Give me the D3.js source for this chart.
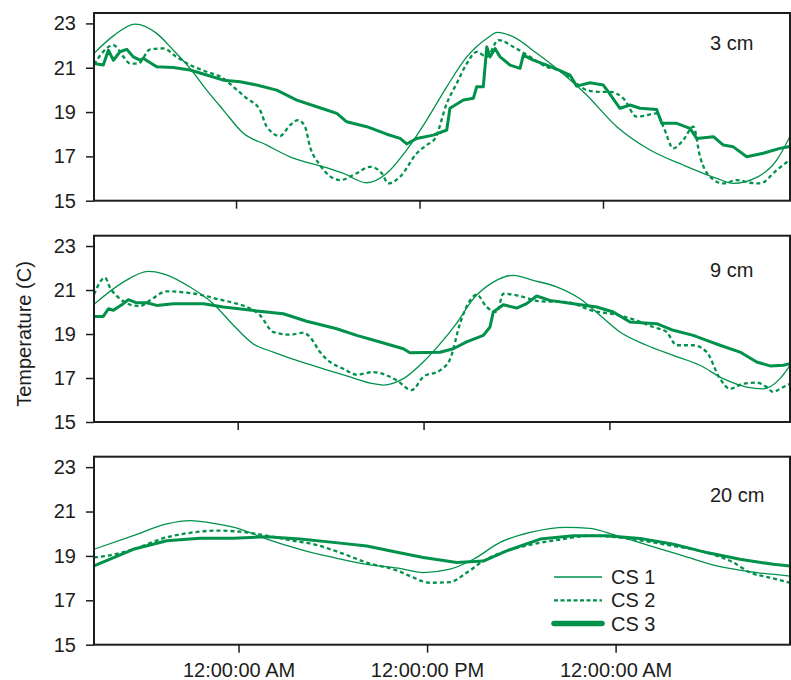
<!DOCTYPE html>
<script src="https://cdn.jsdelivr.net/npm/d3@7"></script>
<html>
    <body style="margin:0;background:#fff">
        <div id="chart-div"></div>
        <script>
            // labels and ticks
            const depthLabels = ["3 cm", "9 cm", "20 cm"];
            const seriesNames = ["CS 1", "CS 2", "CS 3"];
            const yTicks = [15, 17, 19, 21, 23];
            const tickHours = [0, 12, 24]; // hours after the first midnight

            // 3 cm (hours after first midnight, temperature in C)
            const hours3cmCS1 = [-9.29, -8, -6.61, -5.19, -4.1, -3.01, -1.92, -0.83, 0.48, 2.01, 3.53, 5.71, 7.02, 8.55, 9.86, 11.16, 12.47, 13.78, 15.09, 16.4, 17.1, 18.14, 19.67, 21.08, 22.83, 24.9, 27.08, 29.25, 31.44, 32.52, 34.05, 35.36, 36.23];
            const temp3cmCS1 = [21.65, 22.45, 22.97, 22.55, 21.79, 20.97, 19.99, 19.09, 18.04, 17.51, 16.98, 16.53, 16.23, 15.81, 16.24, 17.29, 18.64, 20.14, 21.49, 22.32, 22.6, 22.39, 21.65, 20.9, 19.84, 18.34, 17.29, 16.61, 16.01, 15.78, 16.05, 16.83, 17.9];
            const hours3cmCS2 = [-9.29, -8.02, -7.37, -6.93, -6.39, -5.62, -4.75, -3.88, -3.01, -1.92, -0.83, -0.18, 0.7, 1.57, 2.01, 2.88, 3.53, 4.07, 4.51, 4.84, 5.49, 6.8, 7.89, 8.76, 9.53, 9.96, 10.73, 11.82, 12.47, 13.02, 13.78, 14.43, 15.09, 15.74, 16.4, 17.15, 18.14, 19.23, 20.32, 21.08, 22.28, 22.94, 23.81, 24.46, 25.33, 26.21, 26.86, 27.51, 27.95, 28.6, 29.25, 29.91, 30.35, 31.0, 31.87, 32.75, 33.62, 34.27, 35.36, 36.23];
            const temp3cmCS2 = [21.15, 22.02, 21.5, 21.19, 21.19, 21.83, 21.87, 21.49, 21.12, 20.82, 20.52, 20.14, 19.62, 19.09, 18.34, 17.92, 18.41, 18.64, 18.34, 17.43, 16.61, 15.93, 16.24, 16.53, 16.24, 15.78, 16.08, 17.14, 17.51, 17.81, 19.39, 20.29, 21.19, 21.72, 21.49, 22.25, 21.94, 21.49, 21.04, 20.9, 20.29, 19.99, 19.91, 19.91, 19.62, 18.79, 18.86, 18.94, 18.34, 17.36, 17.74, 18.34, 16.98, 16.08, 15.78, 15.93, 15.81, 15.78, 16.38, 16.85];
            const hours3cmCS3 = [-9.29, -8.68, -8.35, -8.02, -7.59, -7.15, -6.72, -6.28, -6.06, -5.19, -4.1, -3.01, -1.92, -0.83, 0.26, 1.35, 2.66, 3.97, 5.28, 6.59, 7.24, 8.55, 9.86, 10.73, 11.16, 11.82, 12.9, 13.78, 13.99, 14.87, 15.52, 15.74, 16.17, 16.4, 16.61, 16.94, 17.27, 17.92, 18.57, 18.79, 19.44, 20.32, 21.08, 21.84, 22.28, 23.15, 24.02, 24.35, 25.11, 25.77, 26.42, 27.51, 27.84, 28.82, 29.69, 30.13, 31.22, 31.87, 32.52, 33.4, 34.48, 35.57, 36.23];
            const temp3cmCS3 = [21.19, 21.12, 21.79, 21.34, 21.72, 21.83, 21.49, 21.34, 21.42, 21.04, 21.01, 20.9, 20.67, 20.44, 20.37, 20.22, 19.99, 19.54, 19.24, 18.94, 18.56, 18.34, 18.0, 17.81, 17.56, 17.81, 17.96, 18.19, 19.17, 19.54, 19.62, 20.14, 20.14, 21.94, 21.49, 21.87, 21.49, 21.12, 20.97, 21.57, 21.34, 21.12, 20.9, 20.67, 20.17, 20.32, 20.22, 19.91, 19.17, 19.32, 19.17, 19.12, 18.49, 18.49, 18.26, 17.81, 17.89, 17.51, 17.43, 16.98, 17.14, 17.36, 17.45];

            // 9 cm
            const hours9cmCS1 = [-9.28, -7.39, -5.77, -4.8, -3.08, -1.58, -0.28, 1.01, 2.3, 3.81, 5.53, 7.25, 8.75, 9.4, 10.69, 11.98, 13.06, 14.14, 15.21, 16.5, 17.79, 19.08, 20.59, 22.1, 23.39, 24.68, 26.4, 28.12, 29.84, 31.35, 32.86, 33.93, 35.01, 35.66];
            const temp9cmCS1 = [20.35, 21.36, 21.85, 21.74, 21.14, 20.38, 19.4, 18.55, 18.18, 17.8, 17.42, 17.05, 16.74, 16.68, 16.97, 17.73, 18.55, 19.5, 20.6, 21.36, 21.67, 21.44, 21.14, 20.6, 19.85, 19.09, 18.49, 18.03, 17.58, 16.97, 16.59, 16.51, 16.97, 17.58];
            const hours9cmCS2 = [-9.28, -8.57, -8.24, -7.6, -6.74, -6.31, -5.66, -4.58, -3.29, -2.43, -1.36, -0.28, 0.58, 1.44, 2.3, 3.38, 4.24, 4.67, 5.31, 5.96, 6.82, 7.68, 8.75, 9.62, 10.26, 11.23, 11.98, 13.06, 13.71, 14.35, 15.0, 15.43, 16.07, 16.72, 17.15, 18.01, 19.52, 21.24, 22.96, 24.25, 25.54, 26.83, 27.7, 28.34, 29.41, 30.28, 31.14, 31.79, 32.64, 33.51, 34.15, 34.58, 35.01, 35.66];
            const temp9cmCS2 = [20.8, 21.56, 21.1, 20.6, 20.3, 20.27, 20.53, 20.94, 20.88, 20.79, 20.6, 20.42, 20.23, 19.85, 19.09, 18.97, 19.06, 18.86, 18.18, 17.73, 17.42, 17.15, 17.27, 17.12, 16.9, 16.45, 17.05, 17.35, 17.85, 19.47, 20.53, 20.79, 20.23, 20.0, 20.83, 20.76, 20.49, 20.45, 20.05, 19.9, 19.67, 19.32, 19.09, 18.49, 18.49, 18.18, 16.97, 16.51, 16.74, 16.79, 16.59, 16.36, 16.51, 16.74];
            const hours9cmCS3 = [-9.28, -8.68, -8.35, -8.03, -7.39, -7.06, -6.52, -5.87, -5.23, -4.16, -2.22, -0.93, 1.23, 2.94, 4.45, 6.39, 7.68, 9.19, 10.69, 11.12, 13.06, 13.92, 14.78, 15.86, 16.29, 16.5, 17.15, 18.01, 18.66, 19.3, 20.16, 21.67, 23.18, 24.25, 25.33, 27.05, 28.12, 29.41, 30.28, 31.14, 32.43, 33.51, 34.37, 35.23, 35.66];
            const temp9cmCS3 = [19.8, 19.8, 20.15, 20.08, 20.38, 20.56, 20.42, 20.42, 20.3, 20.38, 20.38, 20.23, 20.05, 19.92, 19.58, 19.24, 18.94, 18.64, 18.33, 18.15, 18.17, 18.33, 18.64, 18.94, 19.32, 20.0, 20.33, 20.18, 20.38, 20.73, 20.53, 20.38, 20.23, 20.0, 19.55, 19.47, 19.17, 18.94, 18.71, 18.49, 18.18, 17.73, 17.55, 17.58, 17.65];

            // 20 cm
            const hours20cmCS1 = [-9.2, -6.7, -4.57, -3.09, -1.39, 0.1, 1.8, 3.91, 6.03, 8.16, 10.17, 11.76, 13.46, 14.95, 16.65, 18.56, 20.89, 22.37, 24.07, 26.19, 28.31, 30.44, 32.99, 35.1];
            const temp20cmCS1 = [19.3, 19.91, 20.44, 20.59, 20.44, 20.21, 19.76, 19.3, 18.93, 18.62, 18.45, 18.25, 18.4, 18.85, 19.61, 20.06, 20.29, 20.24, 19.91, 19.45, 19.0, 18.55, 18.25, 18.09];
            const hours20cmCS2 = [-9.2, -8.39, -6.7, -4.57, -2.88, -1.39, 0.1, 1.8, 3.49, 4.98, 6.46, 8.16, 10.17, 10.92, 12.19, 13.46, 14.53, 15.58, 17.07, 18.77, 20.67, 22.37, 24.07, 25.77, 27.68, 29.8, 31.5, 32.56, 33.83, 35.1];
            const temp20cmCS2 = [18.93, 19.0, 19.3, 19.84, 20.06, 20.14, 20.09, 19.91, 19.68, 19.49, 19.15, 18.7, 18.32, 18.09, 17.79, 17.82, 18.25, 18.77, 19.23, 19.53, 19.76, 19.91, 19.84, 19.68, 19.45, 19.15, 18.7, 18.25, 18.02, 17.79];
            const hours20cmCS3 = [-9.2, -6.7, -4.57, -2.45, -0.33, 1.8, 3.91, 6.03, 8.16, 10.17, 11.76, 13.89, 15.58, 17.07, 19.2, 21.31, 23.44, 25.56, 27.68, 29.8, 31.92, 34.04, 35.1];
            const temp20cmCS3 = [18.55, 19.3, 19.68, 19.8, 19.8, 19.86, 19.76, 19.61, 19.45, 19.15, 18.93, 18.7, 18.77, 19.23, 19.76, 19.91, 19.91, 19.79, 19.53, 19.15, 18.85, 18.62, 18.55];

            // panel layout
            const left = 94, right = 790;
            const panels = [
                { label: depthLabels[0], top: 13, bottom: 200.7, hours: [-9.29, 36.23], labelY: 50,
                  series: [[hours3cmCS1, temp3cmCS1], [hours3cmCS2, temp3cmCS2], [hours3cmCS3, temp3cmCS3]] },
                { label: depthLabels[1], top: 235.7, bottom: 422, hours: [-9.28, 35.66], labelY: 277,
                  series: [[hours9cmCS1, temp9cmCS1], [hours9cmCS2, temp9cmCS2], [hours9cmCS3, temp9cmCS3]] },
                { label: depthLabels[2], top: 456.7, bottom: 644.7, hours: [-9.2, 35.1], labelY: 502,
                  series: [[hours20cmCS1, temp20cmCS1], [hours20cmCS2, temp20cmCS2], [hours20cmCS3, temp20cmCS3]] }
            ];

            const green = "#00914b";
            const ink = "#1d1d1b";
            const font = "'Liberation Sans', Arial, Helvetica, sans-serif";
            const styles = [
                { width: 1.3, dash: null, curve: d3.curveMonotoneX },
                { width: 2.3, dash: "4,3", curve: d3.curveMonotoneX },
                { width: 3, dash: null, curve: d3.curveLinear }
            ];

            const base = new Date(2000, 0, 2, 0, 0, 0);
            const toDate = h => new Date(base.getTime() + h * 3600 * 1000);
            const timeFmt = d3.timeFormat("%I:%M:%S %p");

            const svg = d3.select("#chart-div")
                .append("svg")
                .attr("width", 791)
                .attr("height", 680)
                .style("font-family", font);

            panels.forEach((p, i) => {
                const x = d3.scaleTime()
                    .domain(p.hours.map(toDate))
                    .range([left, right]);
                const y = d3.scaleLinear()
                    .domain([15, 23.47])
                    .range([p.bottom, p.top]);

                const g = svg.append("g");

                // clip so the lines stay inside the frame
                g.append("clipPath")
                    .attr("id", "clip" + i)
                    .append("rect")
                    .attr("x", left).attr("y", p.top)
                    .attr("width", right - left).attr("height", p.bottom - p.top);

                // series lines
                p.series.forEach((s, k) => {
                    const pts = s[0].map((h, j) => ({ t: toDate(h), v: s[1][j] }));
                    const line = d3.line()
                        .x(d => x(d.t))
                        .y(d => y(d.v))
                        .curve(styles[k].curve);
                    g.append("path")
                        .datum(pts)
                        .attr("clip-path", "url(#clip" + i + ")")
                        .attr("fill", "none")
                        .attr("stroke", green)
                        .attr("stroke-width", styles[k].width)
                        .attr("stroke-dasharray", styles[k].dash)
                        .attr("stroke-linejoin", "round")
                        .attr("d", line);
                });

                // y axis
                const yAxis = g.append("g")
                    .attr("transform", "translate(" + left + ",0)")
                    .call(d3.axisLeft(y).tickValues(yTicks).tickSize(8).tickPadding(10));
                yAxis.select(".domain").remove();
                yAxis.selectAll("line").attr("stroke", ink).attr("stroke-width", 1.5);
                yAxis.selectAll("text").attr("fill", ink).style("font-size", "20px").style("font-family", font);

                // x axis, labels only on the bottom panel
                const xAxis = g.append("g")
                    .attr("transform", "translate(0," + p.bottom + ")")
                    .call(d3.axisBottom(x)
                        .tickValues(tickHours.map(toDate))
                        .tickSize(8)
                        .tickPadding(10)
                        .tickFormat(i === 2 ? timeFmt : () => ""));
                xAxis.select(".domain").remove();
                xAxis.selectAll("line").attr("stroke", ink).attr("stroke-width", 1.5);
                xAxis.selectAll("text").attr("fill", ink).style("font-size", "20px").style("font-family", font);

                // frame
                g.append("rect")
                    .attr("x", left).attr("y", p.top)
                    .attr("width", right - left).attr("height", p.bottom - p.top)
                    .attr("fill", "none")
                    .attr("stroke", ink)
                    .attr("stroke-width", 2);

                // depth label
                g.append("text")
                    .attr("x", 710).attr("y", p.labelY)
                    .attr("fill", ink)
                    .style("font-size", "20px")
                    .text(p.label);
            });

            // y axis title
            svg.append("text")
                .attr("transform", "translate(31,334) rotate(-90)")
                .attr("text-anchor", "middle")
                .attr("fill", ink)
                .style("font-size", "20px")
                .text("Temperature (C)");

            // legend
            const legendWidths = [1.6, 2.2, 5.5];
            const legend = svg.append("g");
            seriesNames.forEach((name, k) => {
                const ly = 577 + k * 23.3;
                legend.append("line")
                    .attr("x1", 554).attr("x2", 602)
                    .attr("y1", ly).attr("y2", ly)
                    .attr("stroke", green)
                    .attr("stroke-width", legendWidths[k])
                    .attr("stroke-dasharray", k === 1 ? "4,2.5" : null)
                    .attr("stroke-linecap", k === 2 ? "round" : "butt");
                legend.append("text")
                    .attr("x", 611).attr("y", ly + 7)
                    .attr("fill", ink)
                    .style("font-size", "20px")
                    .text(name);
            });
        </script>
    </body>
</html>
